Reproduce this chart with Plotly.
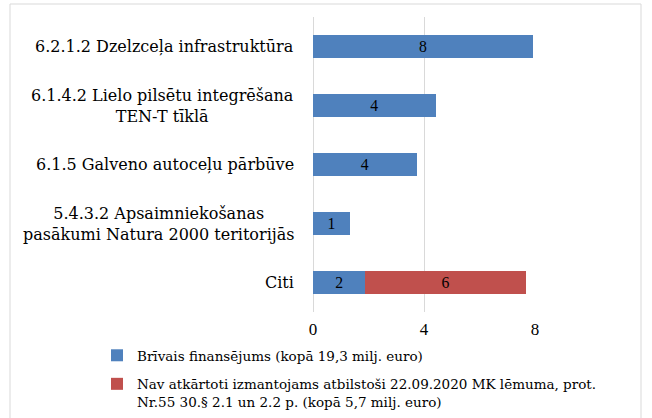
import plotly.graph_objects as go

categories = ['6.2.1.2 Dzelzceļa infrastruktūra',
              '6.1.4.2 Lielo pilsētu integrēšana<br>TEN-T tīklā',
              '6.1.5 Galveno autoceļu pārbūve',
              '5.4.3.2 Apsaimniekošanas<br>pasākumi Natura 2000 teritorijās',
              'Citi']
free_funding = [7.92, 4.43, 3.75, 1.32, 1.89]
not_reusable = [None, None, None, None, 5.77]

series_names = ['Brīvais finansējums (kopā 19,3 milj. euro)',
                'Nav atkārtoti izmantojams atbilstoši 22.09.2020 MK lēmuma, prot.<br>'
                'Nr.55 30.§ 2.1 un 2.2 p. (kopā 5,7 milj. euro)']
x_ticks = [0, 4, 8]

serif = 'DejaVu Serif, serif'
times = 'Liberation Serif, serif'
W, H = 652, 418
L, R, T, B = 313, 117, 17, 106
pw, ph = W - L - R, H - T - B

fig = go.Figure()
fig.add_trace(go.Bar(y=categories, x=free_funding, orientation='h',
                     name=series_names[0], legendgroup='a', legendrank=1,
                     marker_color='#4f81bd',
                     marker_line=dict(color='#4f81bd', width=0),
                     texttemplate='%{x:.0f}', textposition='inside',
                     insidetextanchor='middle', textangle=0,
                     textfont=dict(family=times, size=17, color='black')))
fig.add_trace(go.Bar(y=categories, x=not_reusable, orientation='h',
                     name=series_names[1], legendgroup='b', legendrank=2,
                     marker_color='#c0504d',
                     marker_line=dict(color='#c0504d', width=0),
                     texttemplate='%{x:.0f}', textposition='inside',
                     insidetextanchor='middle', textangle=0,
                     textfont=dict(family=times, size=17, color='black')))

# category labels as annotations so wrapped lines stay centred
for cat in categories:
    fig.add_annotation(x=0, xref='paper', y=cat, yref='y', text=cat,
                       xanchor='right', xshift=-17, align='center',
                       showarrow=False,
                       font=dict(family=serif, size=16, color='black'))

# chart border
fig.add_shape(type='rect', xref='paper', yref='paper',
              x0=(10 - L) / pw, x1=(641 - L) / pw,
              y0=-(440 - T - ph) / ph, y1=1 + (T - 4) / ph,
              line=dict(color='#d9d9d9', width=1))

fig.update_layout(
    width=W, height=H,
    margin=dict(l=L, r=R, t=T, b=B, autoexpand=False),
    barmode='stack', bargap=0.6,
    plot_bgcolor='white', paper_bgcolor='white',
    font=dict(family=serif, size=14, color='black'),
    showlegend=True,
    legend=dict(x=(97 - L) / pw, xanchor='left',
                y=-(340 - T - ph) / ph, yanchor='top',
                orientation='v', traceorder='grouped', tracegroupgap=8,
                valign='top',
                font=dict(family=serif, size=13.5, color='black'),
                itemwidth=30),
)
fig.update_xaxes(range=[0, 8], tickvals=x_ticks, showgrid=True,
                 gridcolor='#d9d9d9', gridwidth=1, zeroline=True,
                 zerolinecolor='#d9d9d9', zerolinewidth=1,
                 showline=False, ticks='', ticklabelstandoff=5,
                 tickfont=dict(family=times, size=17, color='black'))
fig.update_yaxes(autorange='reversed', showticklabels=False,
                 showgrid=False, showline=False, ticks='')

fig.write_html('out.html', config={'displayModeBar': False},
               post_script="document.body.style.margin='0';")
